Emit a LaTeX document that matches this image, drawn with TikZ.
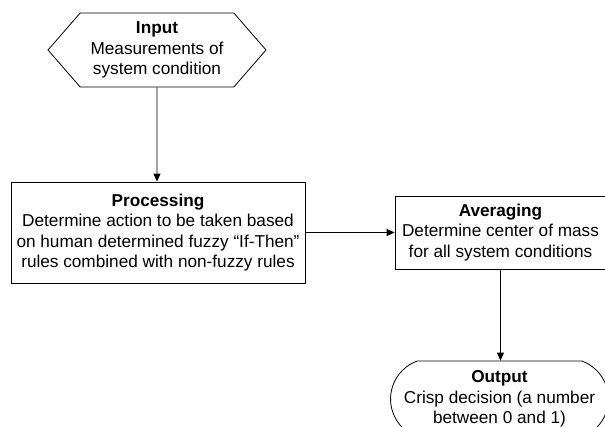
\documentclass[tikz,border=0pt]{standalone}
\usepackage{fontspec}
\setmainfont{Liberation Sans}
\usetikzlibrary{arrows.meta, positioning, shapes.symbols, shapes.misc}

\begin{document}
\begin{tikzpicture}[x=1pt,y=-1pt,>={Triangle[length=8pt,width=7pt]},
		every node/.style={align=center,font=\fontsize{17.2}{20.3}\selectfont},
		stagebox/.style={draw,line width=0.8pt,rectangle,inner sep=3pt},
		inputshape/.style={draw,line width=0.8pt,signal,signal to=east and west,
			signal pointer angle=98,minimum width=218pt,minimum height=74pt,inner sep=2pt},
		outputshape/.style={draw,line width=0.8pt,rounded rectangle,
			rounded rectangle arc length=140,minimum width=209pt,minimum height=76pt,inner sep=2pt},
		flow/.style={->,line width=0.8pt}]
				\clip (0,0) rectangle (605,426);

				% Place the input
				\node[inputshape] (input) at (157,50) {\textbf{Input}\\Measurements of\\system condition};

				% Place the processing step
				\node[stagebox,minimum width=294pt,minimum height=101pt] (processing) at (158,232.5)
					{\textbf{Processing}\\Determine action to be taken based\\on human determined fuzzy “If-Then”\\rules combined with non-fuzzy rules};

				% Place the averaging step
				\node[stagebox,minimum width=211pt,minimum height=73pt] (averaging) at (500.5,232.5)
					{\textbf{Averaging}\\Determine center of mass\\for all system conditions};

				% Place the output
				\node[outputshape] (output) at (499.5,399) {\textbf{Output}\\Crisp decision (a number\\between 0 and 1)};

				% Draw the arrows
				\draw[flow] (input) -- (input |- processing.north);
				\draw[flow] (processing) -- (averaging);
				\draw[flow] (averaging) -- (averaging |- output.north);
			\end{tikzpicture}
\end{document}
